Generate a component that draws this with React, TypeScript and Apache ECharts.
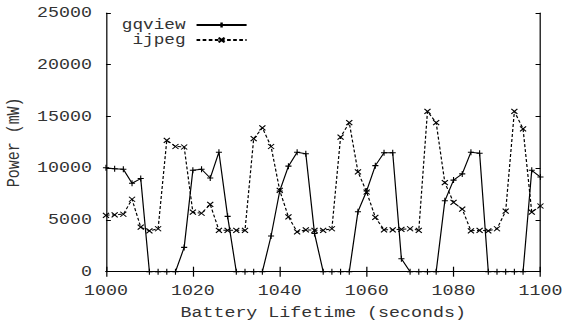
import React, { useEffect, useRef } from 'react';
import * as echarts from 'echarts';

const times = [
  1000, 1002, 1004, 1006, 1008, 1010, 1012, 1014, 1016, 1018,
  1020, 1022, 1024, 1026, 1028, 1030, 1032, 1034, 1036, 1038,
  1040, 1042, 1044, 1046, 1048, 1050, 1052, 1054, 1056, 1058,
  1060, 1062, 1064, 1066, 1068, 1070, 1072, 1074, 1076, 1078,
  1080, 1082, 1084, 1086, 1088, 1090, 1092, 1094, 1096, 1098,
  1100,
];

const gqview = [
  10050, 9950, 9900, 8550, 9000, 0, 0, 0, 0, 2350,
  9800, 9900, 9050, 11550, 5350, 0, 0, 0, 0, 3450,
  7800, 10200, 11550, 11400, 3700, 0, 0, 0, 0, 5800,
  7800, 10250, 11500, 11500, 1250, 0, 0, 0, 0, 6850,
  8850, 9450, 11550, 11450, 0, 0, 0, 0, 0, 9800,
  9150,
];

const ijpeg = [
  5450, 5500, 5550, 7000, 4300, 3950, 4150, 12700, 12100, 12050,
  5750, 5650, 6500, 4000, 4000, 4000, 4000, 12850, 13900, 12100,
  7850, 5300, 3850, 4050, 4000, 4000, 4150, 13000, 14400, 9650,
  7700, 5250, 4050, 4050, 4100, 4150, 4000, 15500, 14400, 8600,
  6700, 6050, 3950, 4000, 3950, 4150, 5850, 15500, 13800, 5750,
  6350,
];

const xTickLabels = ['1000', '1020', '1040', '1060', '1080', '1100'];
const yTickLabels = ['0', '5000', '10000', '15000', '20000', '25000'];

const seriesNames = ['gqview', 'ijpeg'];
const xTitle = 'Battery Lifetime (seconds)';
const yTitle = 'Power (mW)';

const W = 462;
const H = 321;
const STRETCH = 564 / W;
const FONT = '"Liberation Mono", "DejaVu Sans Mono", monospace';

const plusPath = 'path://M0 5 L10 5 M5 0 L5 10';
const crossPath = 'path://M0 0 L10 10 M10 0 L0 10';

export default function App() {
  const ref = useRef<HTMLDivElement>(null);

  useEffect(() => {
    document.body.style.margin = '0';
    if (!ref.current) return;
    const chart = echarts.init(ref.current, undefined, { renderer: 'svg' });

    const xMin = Number(xTickLabels[0]);
    const xMax = Number(xTickLabels[xTickLabels.length - 1]);
    const xInt = Number(xTickLabels[1]) - xMin;
    const yMin = Number(yTickLabels[0]);
    const yMax = Number(yTickLabels[yTickLabels.length - 1]);
    const yInt = Number(yTickLabels[1]) - yMin;

    const labelStyle = { color: '#333', fontFamily: FONT, fontSize: 15 };
    const axisLine = { show: true, lineStyle: { color: '#000', width: 1 } };
    const plain = (v: number) => String(v);

    const legendBase = {
      orient: 'vertical' as const,
      align: 'right' as const,
      right: W - 203,
      itemWidth: 41,
      itemHeight: 6,
      padding: 0,
      itemGap: 0,
      selectedMode: false,
      textStyle: { ...labelStyle, fontSize: 14.5, padding: [0, 4, 0, 0] },
    };

    chart.setOption({
      animation: false,
      backgroundColor: '#fff',
      grid: { left: 86.8, right: W - 442.7, top: 13, bottom: 49.3, outerBoundsMode: 'none', containLabel: false },
      legend: [
        { ...legendBase, data: [seriesNames[0]], top: 17.5 },
        { ...legendBase, data: [seriesNames[1]], top: 32.5 },
      ],
      xAxis: [
        {
          type: 'value',
          min: xMin,
          max: xMax,
          interval: xInt,
          name: xTitle,
          nameLocation: 'middle',
          nameGap: 33.5,
          nameTextStyle: labelStyle,
          axisLine,
          axisTick: { show: true, inside: true, length: 5, lineStyle: { color: '#000' } },
          axisLabel: { ...labelStyle, margin: 12, formatter: plain },
          splitLine: { show: false },
        },
        {
          type: 'value',
          position: 'top',
          min: xMin,
          max: xMax,
          interval: xInt,
          axisLine,
          axisTick: { show: true, inside: true, length: 5, lineStyle: { color: '#000' } },
          axisLabel: { show: false },
          splitLine: { show: false },
        },
      ],
      yAxis: [
        {
          type: 'value',
          min: yMin,
          max: yMax,
          interval: yInt,
          name: yTitle,
          nameLocation: 'middle',
          nameGap: 65,
          nameTextStyle: labelStyle,
          axisLine,
          axisTick: { show: true, inside: true, length: 4, lineStyle: { color: '#000' } },
          axisLabel: { ...labelStyle, margin: 11.5, formatter: plain },
          splitLine: { show: false },
        },
        {
          type: 'value',
          position: 'right',
          min: yMin,
          max: yMax,
          interval: yInt,
          axisLine,
          axisTick: { show: true, inside: true, length: 4, lineStyle: { color: '#000' } },
          axisLabel: { show: false },
          splitLine: { show: false },
        },
      ],
      series: [
        {
          name: seriesNames[0],
          type: 'line',
          data: times.map((t, i) => [t, gqview[i]]),
          symbol: plusPath,
          symbolSize: [5, 6],
          showAllSymbol: true,
          lineStyle: { color: '#000', width: 1, type: 'solid' },
          itemStyle: { color: '#000', borderColor: '#000', borderWidth: 1 },
        },
        {
          name: seriesNames[1],
          type: 'line',
          data: times.map((t, i) => [t, ijpeg[i]]),
          symbol: crossPath,
          symbolSize: [5, 5],
          showAllSymbol: true,
          lineStyle: { color: '#000', width: 1, type: [3, 2] },
          itemStyle: { color: '#000', borderColor: '#000', borderWidth: 1 },
        },
      ],
    });

    return () => chart.dispose();
  }, []);

  return (
    <div
      style={{
        position: 'absolute',
        left: 0,
        top: 0,
        width: 564,
        height: H,
        overflow: 'hidden',
        background: '#fff',
      }}
    >
      <div
        ref={ref}
        style={{
          width: W,
          height: H,
          transform: `scaleX(${STRETCH})`,
          transformOrigin: '0 0',
        }}
      />
    </div>
  );
}
